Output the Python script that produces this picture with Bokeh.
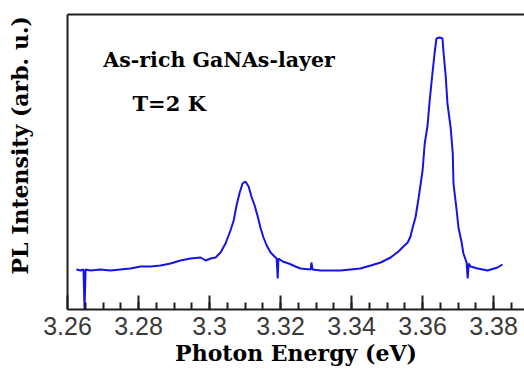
import numpy as np
from bokeh.plotting import figure
from bokeh.models import Range1d, FixedTicker, Label, LinearAxis, Title
from bokeh.embed import file_html
from bokeh.resources import INLINE

# Photon energy (eV) and PL intensity (arb. u.)
energy = [3.2625, 3.2637, 3.2645, 3.2648, 3.2651, 3.2665, 3.2693, 3.2721, 3.2749, 3.2777,
          3.2806, 3.2834, 3.2862, 3.2890, 3.2918, 3.2946, 3.2975, 3.2989, 3.3003, 3.3017,
          3.3031, 3.3045, 3.3059, 3.3068, 3.3076, 3.3085, 3.3093, 3.3101, 3.3110, 3.3118,
          3.3127, 3.3135, 3.3144, 3.3152, 3.3161, 3.3172, 3.3183, 3.3189, 3.3192, 3.3194,
          3.3206, 3.3223, 3.3242, 3.3256, 3.3285, 3.3287, 3.3290, 3.3313, 3.3341, 3.3369,
          3.3397, 3.3425, 3.3454, 3.3482, 3.3510, 3.3532, 3.3546, 3.3558, 3.3566, 3.3572,
          3.3580, 3.3589, 3.3600, 3.3606, 3.3614, 3.3620, 3.3628, 3.3634, 3.3639, 3.3648,
          3.3656, 3.3659, 3.3665, 3.3670, 3.3679, 3.3685, 3.3687, 3.3696, 3.3701, 3.3710,
          3.3715, 3.3724, 3.3727, 3.3730, 3.3735, 3.3755, 3.3783, 3.3811, 3.3825]
intensity = [40, 39, 40, 0, 40, 39, 40, 39, 40, 41,
             43, 43, 44, 46, 49, 51, 52, 49, 51, 52,
             57, 66, 79, 89, 104, 117, 126, 128, 123, 113,
             104, 94, 81, 72, 64, 57, 53, 51, 31, 51,
             48, 46, 43, 41, 40, 47, 40, 39, 39, 39,
             40, 41, 44, 47, 52, 58, 63, 67, 73, 82,
             92, 112, 139, 166, 184, 209, 237, 257, 271, 272,
             271, 257, 234, 206, 182, 156, 126, 99, 82, 67,
             56, 47, 31, 46, 43, 41, 39, 42, 45]

tick_values = [3.26, 3.28, 3.30, 3.32, 3.34, 3.36, 3.38]
tick_labels = ["3.26", "3.28", "3.3", "3.32", "3.34", "3.36", "3.38"]
minor_values = [float(v) for v in np.round(np.arange(3.265, 3.3876, 0.005), 3)]

x_title = "Photon Energy (eV)"
y_title = "PL Intensity (arb. u.)"
note1 = "As-rich GaNAs-layer"
note2 = "T=2 K"

SERIF = "DejaVu Serif"
AX = "#1e1e1e"

p = figure(width=524, height=372, output_backend="svg", toolbar_location=None,
           x_range=Range1d(3.26, 3.3887), y_range=Range1d(0, 295),
           min_border_left=67, min_border_right=0, min_border_top=14, min_border_bottom=63)
p.outline_line_color = None
p.grid.visible = False
p.background_fill_color = "white"
p.border_fill_color = "white"

p.line(energy, intensity, line_color="#1414e6", line_width=2)

# bottom axis
xa = p.xaxis[0]
xa.ticker = FixedTicker(ticks=tick_values, minor_ticks=minor_values)
xa.major_label_overrides = dict(zip(tick_values, tick_labels))
xa.axis_line_color = AX
xa.axis_line_width = 2
xa.major_tick_line_color = AX
xa.major_tick_line_width = 2
xa.major_tick_in = 14
xa.major_tick_out = 0
xa.minor_tick_line_color = AX
xa.minor_tick_line_width = 2
xa.minor_tick_in = 7
xa.minor_tick_out = 0
xa.major_label_text_font = "Liberation Sans"
xa.major_label_text_font_size = "25px"
xa.major_label_text_color = "#3a3a3a"
xa.major_label_standoff = 7
xa.axis_label = x_title
xa.axis_label_text_font = SERIF
xa.axis_label_text_font_style = "bold"
xa.axis_label_text_font_size = "22px"
xa.axis_label_text_color = "black"
xa.axis_label_standoff = 2

# left axis: line only; an undrawn blank label keeps the title clear of the axis
ya = p.yaxis[0]
ya.ticker = FixedTicker(ticks=[])
ya.axis_line_color = AX
ya.axis_line_width = 2
ya.major_tick_line_color = None
ya.minor_tick_line_color = None
ya.major_label_text_font_size = "0px"
ya.axis_label = "\u00a0"
ya.axis_label_text_font_size = "20px"
ya.axis_label_text_color = None
ya.axis_label_standoff = 10

# y title, placed along the axis from its lower end
p.add_layout(Title(text=y_title, align="left", offset=35, vertical_align="bottom",
                   standoff=0, text_font=SERIF, text_font_style="bold",
                   text_font_size="22px", text_color="black"), "left")

# top frame line
top = LinearAxis(ticker=FixedTicker(ticks=[]), axis_line_color=AX, axis_line_width=2,
                 major_tick_line_color=None, minor_tick_line_color=None,
                 major_label_text_font_size="0px")
p.add_layout(top, "above")

# annotations
p.add_layout(Label(x=3.2701, y=250, text=note1, text_font=SERIF, text_font_style="bold",
                   text_font_size="20.5px", text_color="black", text_baseline="alphabetic"))
p.add_layout(Label(x=3.2783, y=206, text=note2, text_font=SERIF, text_font_style="bold",
                   text_font_size="21px", text_color="black", text_baseline="alphabetic"))

open("out.html", "w").write(file_html(p, INLINE))
